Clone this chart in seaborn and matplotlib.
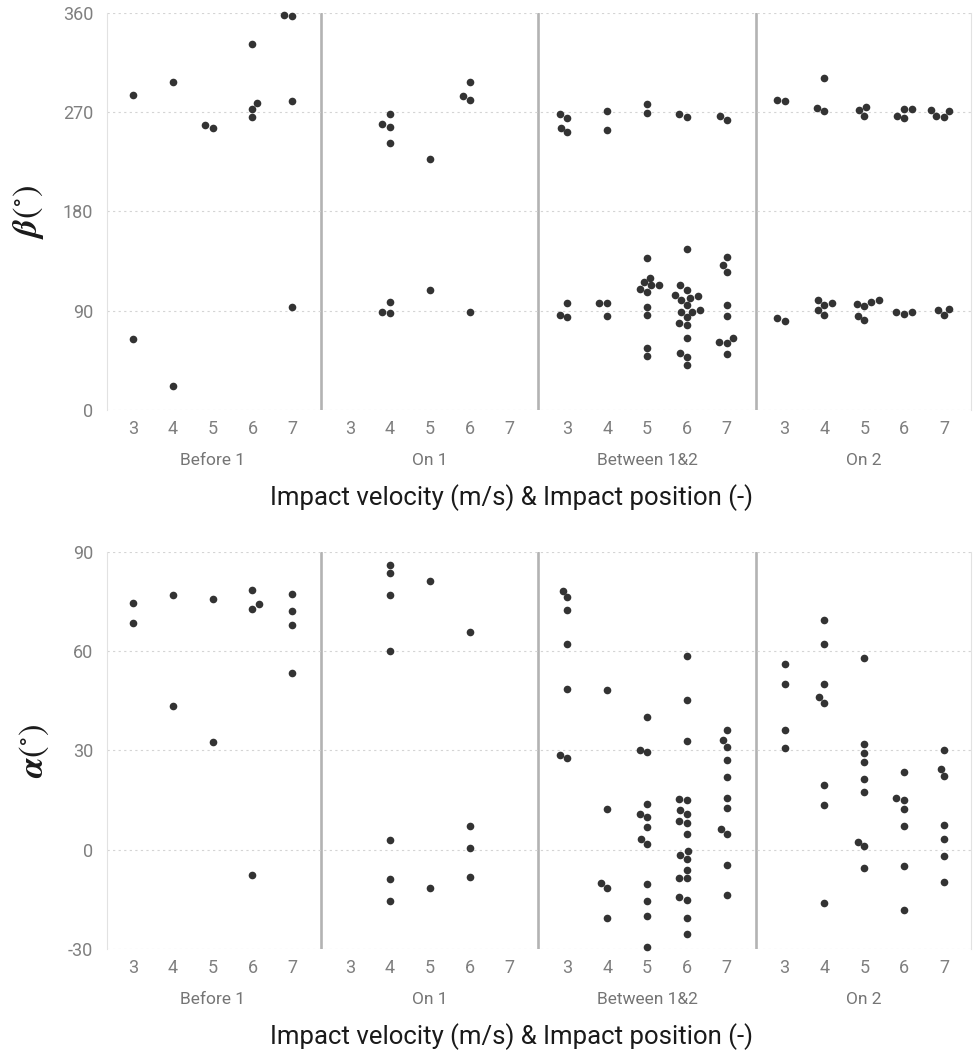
import numpy as np
import pandas as pd
import matplotlib
matplotlib.use('Agg')
import matplotlib.pyplot as plt
import seaborn as sns

velocities = [3, 4, 5, 6, 7]
positions = ['Before 1', 'On 1', 'Between 1&2', 'On 2']

# beta (deg), per impact position, keyed by impact velocity
beta_before1 = {3: [285.5, 64], 4: [297, 22], 5: [256, 258], 6: [332, 273, 278.5, 266],
                7: [357.5, 358.5, 280, 93]}
beta_on1 = {4: [268, 257, 259, 242, 98, 89, 88], 5: [228, 109], 6: [297, 285, 281, 89]}
beta_between = {3: [265, 268, 256, 252, 97, 84, 86],
                4: [271, 254, 97, 97, 85],
                5: [277, 269, 138, 120, 116, 113, 110, 113, 107, 93, 86, 56, 49],
                6: [266, 268, 146, 113, 109, 103, 100, 104, 101.5, 95, 89, 90.5, 88.5, 84, 77, 79,
                    65, 48, 52, 41],
                7: [267, 263, 139, 131, 125, 95, 85, 62, 65, 61, 50.5]}
beta_on2 = {3: [280.5, 280.8, 83, 80.5],
            4: [301, 274, 271.5, 96.7, 99.4, 95, 90.3, 86.4],
            5: [272, 275, 267, 98, 96, 99.7, 94, 85.5, 81.3],
            6: [272.5, 273, 264.5, 267, 87.3, 89, 88.5],
            7: [271.6, 270.7, 265.6, 266.2, 92, 91, 86.4]}

# alpha (deg)
alpha_before1 = {3: [74.6, 68.6], 4: [77.1, 43.4], 5: [75.8, 32.7], 6: [78.6, 74.2, 72.9, -7.7],
                 7: [77.3, 72.1, 67.8, 53.4]}
alpha_on1 = {4: [86.2, 83.7, 77, 60.2, 2.9, -8.9, -15.4], 5: [81.1, -11.6], 6: [65.9, 7.1, 0.5, -8.3]}
alpha_between = {3: [78.3, 76.3, 72.4, 62.2, 48.7, 28.5, 27.7],
                 4: [48.2, 12.4, -10.1, -11.6, -20.5],
                 5: [40.1, 29.5, 30.3, 13.9, 9.8, 10.8, 6.8, 3.3, 1.8, -10.5, -15.4, -19.9, -29.3],
                 6: [58.6, 45.3, 33, 15.1, 15.3, 12, 10.7, 8.7, 8, 4.9, -0.5, -1.5, -2.8, -6.2, -8.6,
                     -8.4, -14.4, -15.1, -20.5, -25.4],
                 7: [36.2, 33.1, 31.1, 27, 22, 15.5, 12.6, 4.7, 6.3, -4.6, -13.6]}
alpha_on2 = {3: [56, 50.2, 36.3, 30.7],
             4: [69.5, 62.3, 50.2, 46.1, 44.4, 19.7, 13.6, -16.1],
             5: [57.9, 32, 29.3, 26.5, 21.5, 17.4, 1, 2.4, -5.6],
             6: [23.5, 15, 15.6, 12.4, 7.1, -4.8, -18.1],
             7: [30.1, 24.5, 22.4, 7.4, 3.4, -1.8, -9.6]}

GAP = 5.45  # distance between groups, in velocity-tick units


def to_frame(groups):
    rows = []
    for g, d in enumerate(groups):
        for v, vals in d.items():
            for val in vals:
                rows.append((g * GAP + v - 3, val))
    return pd.DataFrame(rows, columns=['pos', 'value'])


sns.set_theme(style='white')
plt.rcParams['font.family'] = ['Roboto', 'DejaVu Sans']
plt.rcParams['mathtext.fontset'] = 'stix'
plt.rcParams['axes.unicode_minus'] = False

fig = plt.figure(figsize=(9.73, 10.52), dpi=100)
ax1 = fig.add_axes([0.110, 0.6103, 0.888, 0.3774])
ax2 = fig.add_axes([0.110, 0.0979, 0.888, 0.3774])

panels = [
    (ax1, [beta_before1, beta_on1, beta_between, beta_on2], (0, 360), [0, 90, 180, 270, 360],
     r'$\mathbfit{\beta}(^{\circ})$', -51),
    (ax2, [alpha_before1, alpha_on1, alpha_between, alpha_on2], (-30, 90), [-30, 0, 30, 60, 90],
     r'$\mathbfit{\alpha}(^{\circ})$', -50),
]

tick_pos = [g * GAP + v - 3 for g in range(4) for v in velocities]
tick_lab = [str(v) for g in range(4) for v in velocities]

for ax, groups, ylim, yticks, ylab, grp_off in panels:
    df = to_frame(groups)
    sns.swarmplot(data=df, x='pos', y='value', native_scale=True, orient='x', ax=ax,
                  color='#333333', size=5.5, linewidth=0, warn_thresh=1)
    for c in ax.collections:
        c.set_clip_on(False)
    ax.set_xlim(-0.65, 3 * GAP + 4 + 0.68)
    ax.set_ylim(*ylim)
    ax.set_yticks(yticks)
    ax.set_xticks(tick_pos)
    ax.set_xticklabels(tick_lab)
    ax.tick_params(axis='both', length=0, labelsize=13, labelcolor='#7f7f7f')
    ax.tick_params(axis='x', pad=7)
    ax.tick_params(axis='y', pad=10)
    ax.yaxis.grid(True, linestyle=(0, (2, 3)), color='#d4d4d4', linewidth=0.8)
    ax.xaxis.grid(False)
    for s in ['top', 'bottom']:
        ax.spines[s].set_visible(False)
    for s in ['left', 'right']:
        ax.spines[s].set_color('#e2e2e2')
        ax.spines[s].set_linewidth(0.8)
    for g in range(3):
        ax.axvline(g * GAP + 4 + (GAP - 4) / 2, color='#b3b3b3', linewidth=1.9, zorder=0)
    for g, name in enumerate(positions):
        ax.annotate(name, xy=(g * GAP + 2, 0), xycoords=ax.get_xaxis_transform(),
                    xytext=(0, grp_off), textcoords='offset pixels', ha='center', va='center',
                    fontsize=12.5, color='#757575')
    ax.annotate('Impact velocity (m/s) & Impact position (-)', xy=(0.4676, 0), xycoords='axes fraction',
                xytext=(0, -88), textcoords='offset pixels', ha='center', va='center',
                fontsize=18.5, color='#1a1a1a')
    ax.set_xlabel('')
    ax.set_ylabel(ylab, fontsize=25, color='#1a1a1a', labelpad=12)

fig.savefig('out.png', dpi=100)
